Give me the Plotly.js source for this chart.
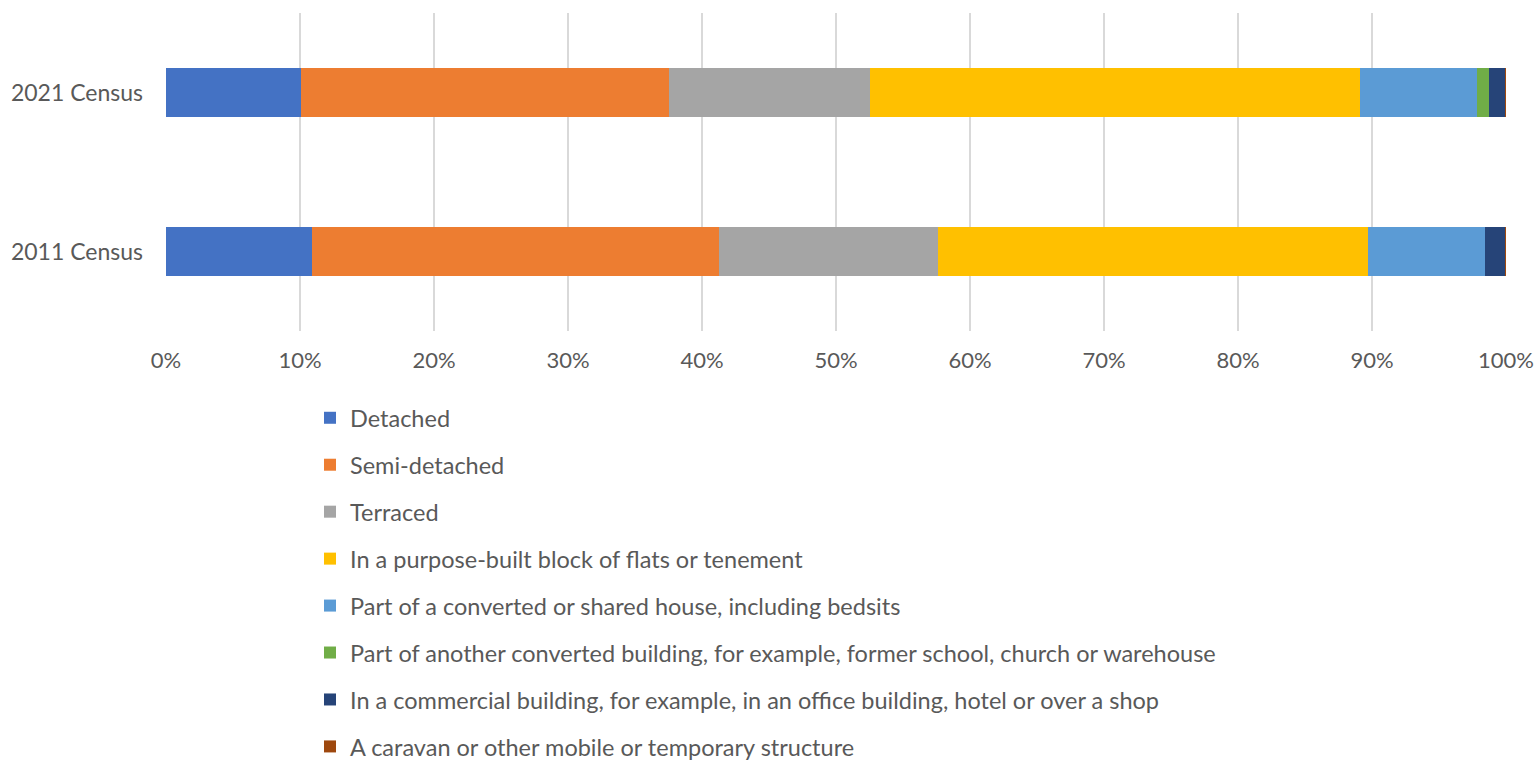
<!DOCTYPE html>
<html>
<head>
<meta charset="utf-8">
<script src="https://cdn.plot.ly/plotly-3.0.1.min.js"></script>
<style>
html,body{margin:0;padding:0;background:#fff;}
#chart{width:1539px;height:769px;}
</style>
</head>
<body>
<div id="chart"></div>
<script>
const categories = ["2011 Census", "2021 Census"];
const seriesNames = [
  "Detached",
  "Semi-detached",
  "Terraced",
  "In a purpose-built block of flats or tenement",
  "Part of a converted or shared house, including bedsits",
  "Part of another converted building, for example, former school, church or warehouse",
  "In a commercial building, for example, in an office building, hotel or over a shop",
  "A caravan or other mobile or temporary structure"
];
// values in %, order: [2011, 2021]
const detached      = [10.9, 10.1];
const semiDetached  = [30.4, 27.4];
const terraced      = [16.3, 15.0];
const flats         = [32.1, 36.6];
const convertedHouse= [8.7, 8.7];
const otherConverted= [0.0, 0.9];
const commercial    = [1.5, 1.2];
const caravan       = [0.1, 0.1];
const seriesValues = [detached, semiDetached, terraced, flats, convertedHouse, otherConverted, commercial, caravan];
const colors = ["#4472C4", "#ED7D31", "#A5A5A5", "#FFC000", "#5B9BD5", "#70AD47", "#264478", "#9E480E"];
const tickVals = [0,10,20,30,40,50,60,70,80,90,100];
const tickText = tickVals.map(v => v + "%");

const traces = seriesNames.map((name, i) => ({
  type: "bar",
  orientation: "h",
  name: name,
  y: categories,
  x: seriesValues[i],
  marker: {color: colors[i], line: {width: 0}},
  legendgroup: "g" + i,
  hoverinfo: "name+x"
}));

const fam = "Lato, 'Liberation Sans', sans-serif";

const layout = {
  width: 1539, height: 769,
  margin: {l: 166, r: 33, t: 13, b: 438, autoexpand: false},
  barmode: "stack",
  bargap: 0.69,
  paper_bgcolor: "#fff",
  plot_bgcolor: "#fff",
  font: {family: fam, size: 22, color: "#595959"},
  xaxis: {
    range: [0, 100],
    tickvals: tickVals,
    ticktext: tickText,
    tickfont: {family: fam, size: 22, color: "#595959"},
    showgrid: true,
    gridcolor: "#D9D9D9",
    gridwidth: 1.5,
    zeroline: false,
    showline: false,
    ticks: "",
    ticklabelstandoff: 14,
    fixedrange: true
  },
  yaxis: {
    type: "category",
    categoryorder: "array",
    categoryarray: categories,
    range: [-0.5, 1.5],
    tickfont: {family: fam, size: 23, color: "#595959"},
    showgrid: false,
    zeroline: false,
    showline: false,
    ticks: "",
    ticklabelstandoff: 22,
    fixedrange: true
  },
  showlegend: true,
  legend: {
    orientation: "v",
    xref: "container",
    yref: "container",
    x: 310 / 1539,
    xanchor: "left",
    y: 1 - 396 / 769,
    yanchor: "top",
    traceorder: "grouped",
    tracegroupgap: 13.4,
    font: {family: fam, size: 23.5, color: "#595959"},
    itemclick: false,
    itemdoubleclick: false
  }
};

Plotly.newPlot("chart", traces, layout, {displayModeBar: false, staticPlot: true});
</script>
</body>
</html>
